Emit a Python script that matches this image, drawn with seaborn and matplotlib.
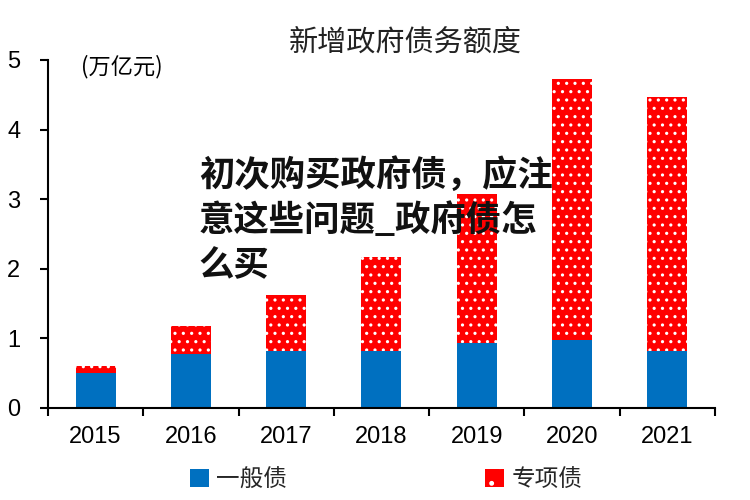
import matplotlib
matplotlib.use("Agg")
import matplotlib.pyplot as plt
import seaborn as sns
import pandas as pd
import numpy as np
from matplotlib.patches import Patch
from matplotlib.ticker import FixedLocator

years = ["2015", "2016", "2017", "2018", "2019", "2020", "2021"]
general = [0.50, 0.78, 0.82, 0.82, 0.93, 0.98, 0.82]
special = [0.10, 0.40, 0.80, 1.35, 2.15, 3.75, 3.65]
yticks = [0, 1, 2, 3, 4, 5]

title = "新增政府债务额度"
unit = "(万亿元)"
legend_labels = ["一般债", "专项债"]
watermark = "初次购买政府债，应注\n意这些问题_政府债怎\n么买"

BLUE = "#0070C0"
RED = "#FF0000"

sns.set_theme(style="white")
plt.rcParams["font.family"] = ["Liberation Sans", "Noto Sans CJK SC", "DejaVu Sans"]
plt.rcParams["hatch.linewidth"] = 1.1
plt.rcParams["hatch.color"] = "white"

df = pd.DataFrame({"year": years, "general": general, "special": special})
df["total"] = df["general"] + df["special"]

fig = plt.figure(figsize=(7.5, 5), dpi=100)
ax = fig.add_axes([0.064, 0.184, 0.889, 0.696])

sns.barplot(data=df, x="year", y="total", ax=ax, color=RED, saturation=1,
            width=0.42, edgecolor="white", linewidth=0, hatch="..")
sns.barplot(data=df, x="year", y="general", ax=ax, color=BLUE, saturation=1,
            width=0.42, linewidth=0)

ax.set_xlim(-0.5, len(years) - 0.5)
ax.set_ylim(0, 5)
ax.set_yticks(yticks)
ax.set_xlabel("")
ax.set_ylabel("")
for s in ["top", "right"]:
    ax.spines[s].set_visible(False)
for s in ["left", "bottom"]:
    ax.spines[s].set_color("black")
    ax.spines[s].set_linewidth(1.5)

ax.tick_params(axis="x", which="major", length=0, labelsize=17, pad=13, colors="black")
ax.xaxis.set_minor_locator(FixedLocator(np.arange(-0.5, len(years), 1.0)))
ax.tick_params(axis="x", which="minor", length=6, width=1.5, direction="out", color="black", bottom=True)
ax.tick_params(axis="y", which="major", length=6, width=1.5, direction="out", labelsize=17,
               colors="black", left=True, pad=14)

fig.text(0.54, 0.914, title, ha="center", va="center", fontsize=21,
         family=["Noto Sans CJK SC"], color="#222222")
ax.text(0.05, 0.98, unit, transform=ax.transAxes, ha="left", va="center", fontsize=16,
        family=["Noto Sans CJK SC"], color="black")

fig.text(0.265, 0.56, watermark, ha="left", va="center", fontsize=25.5, fontweight="bold",
         family=["Noto Sans CJK SC"], color="#111111", linespacing=1.35)

handles = [Patch(facecolor=BLUE, edgecolor=BLUE, linewidth=0),
           Patch(facecolor=RED, edgecolor="white", linewidth=0, hatch=".")]
fig.legend(handles, legend_labels, loc="center", bbox_to_anchor=(0.515, 0.04), ncol=2,
           frameon=False, handlelength=0.8, handleheight=0.8, handletextpad=0.3,
           columnspacing=8.4, prop={"family": ["Noto Sans CJK SC"], "size": 17})

fig.savefig("out.png", dpi=100)
